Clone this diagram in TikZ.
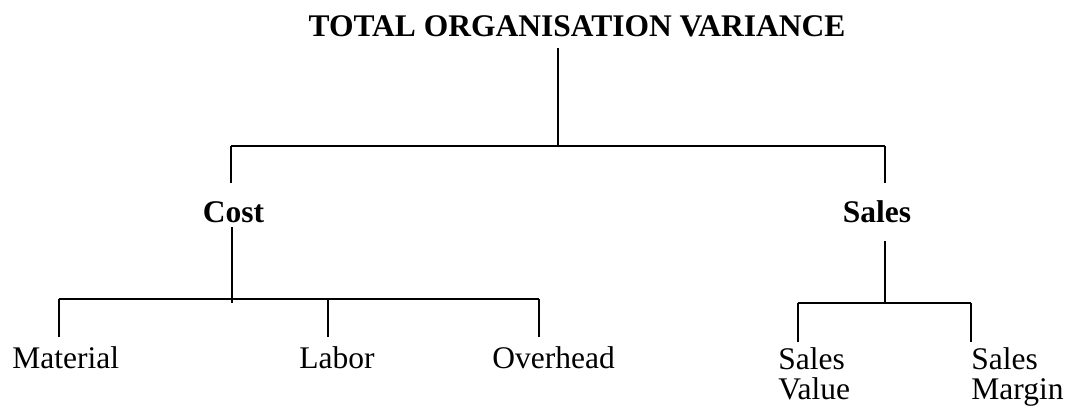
\documentclass[tikz,border=0pt]{standalone}
\usepackage{fontspec}
\setmainfont{Liberation Serif}
\newcommand{\pxUnit}{0.4444pt}
\newcommand{\branchBase}{222}
\newcommand{\leafBase}{368}
\tikzset{
  branchtext/.style={anchor=base, inner sep=0pt, font=\fontsize{14}{15}\selectfont\bfseries},
  leaftext/.style={anchor=base west, inner sep=0pt, font=\fontsize{14}{15}\selectfont},
  stackleaf/.style={anchor=north west, inner sep=0pt, align=left, font=\fontsize{14}{13.3}\selectfont},
  stem/.style={line width=0.7pt},
  bar/.style={line width=0.9pt}
}
\begin{document}
\begin{tikzpicture}[x=\pxUnit, y=-\pxUnit]
\useasboundingbox (0,0) rectangle (1069,409);
\node (total) [branchtext] at (577,36) {TOTAL ORGANISATION VARIANCE};
\node (cost) [branchtext] at (233.5,\branchBase) {Cost};
\node (sales) [branchtext] at (877,\branchBase) {Sales};
\node (material) [leaftext] at (12,\leafBase) {Material};
\node (labor) [leaftext] at (299,\leafBase) {Labor};
\node (overhead) [leaftext] at (492,\leafBase) {Overhead};
\node (salesvalue) [stackleaf] at (778,347) {Sales\\Value};
\node (salesmargin) [stackleaf] at (971,347) {Sales\\Margin};
% total -> cost / sales
\coordinate (totalfoot) at (558,48);
\coordinate (topmid) at (558,146);
\coordinate (topleft) at (231,146);
\coordinate (topright) at (885,146);
\draw[stem] (totalfoot) -- (topmid);
\draw[bar] (topleft) -- (topright);
\draw[stem] (topleft) -- (topleft |- 0,183);
\draw[stem] (topright) -- (topright |- 0,183);
% cost -> material / labor / overhead
\coordinate (costfoot) at (232,227);
\coordinate (costend) at (232,303);
\coordinate (costleft) at (59,299);
\coordinate (costmid) at (328,299);
\coordinate (costright) at (539,299);
\draw[stem] (costfoot) -- (costend);
\draw[bar] (costleft) -- (costright);
\draw[stem] (costleft) -- (costleft |- 0,337);
\draw[stem] (costmid) -- (costmid |- 0,337);
\draw[stem] (costright) -- (costright |- 0,337);
% sales -> value / margin
\coordinate (salesfoot) at (885,241);
\coordinate (salesmid) at (885,303);
\coordinate (salesleft) at (798,303);
\coordinate (salesright) at (971,303);
\draw[stem] (salesfoot) -- (salesmid);
\draw[stem] (salesleft) -- (salesright);
\draw[stem] (salesleft) -- (salesleft |- 0,342);
\draw[stem] (salesright) -- (salesright |- 0,342);
\end{tikzpicture}
\end{document}
